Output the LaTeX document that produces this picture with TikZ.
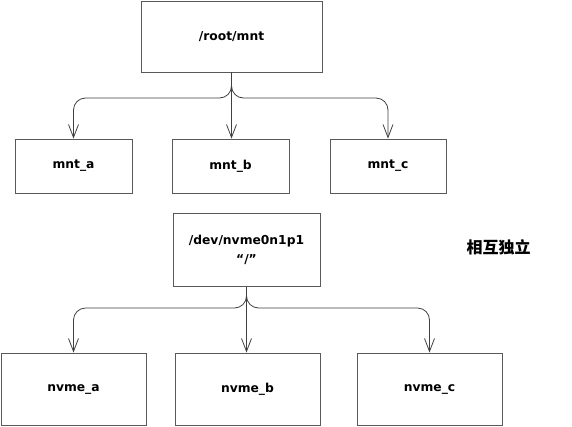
\documentclass[tikz,border=0pt]{standalone}
\usepackage{fontspec}
\setmainfont{DejaVu Sans}
\newfontfamily\cjk{Noto Sans CJK SC}
\usetikzlibrary{arrows.meta}
\begin{document}
\begin{tikzpicture}[x=1pt,y=-1pt,
  box/.style={draw=black!65,line width=0.9pt,fill=white,inner sep=0pt,font=\bfseries\fontsize{12.3}{18.5}\selectfont,align=center},
  arr/.style={draw=black!75,line width=0.8pt,-{Straight Barb[length=13pt,width=10pt,line width=0.8pt]}},
  br/.style={arr,rounded corners=12pt}]
\useasboundingbox (0,0) rectangle (572,426);
\fill[white] (0,0) rectangle (572,426);
% top group
\node[box,minimum width=181pt,minimum height=71pt] (root) at (231.5,36.5) {/root/mnt};
\node[box,minimum width=117pt,minimum height=54pt] (ma) at (73.5,166) {mnt\_a};
\node[box,minimum width=117pt,minimum height=54pt] (mb) at (230.5,166) {mnt\_b};
\node[box,minimum width=116pt,minimum height=54pt] (mc) at (388,166) {mnt\_c};
\coordinate (rj) at (231.5,98);
\draw[br] (root.south) -- (rj) -| (ma.north);
\draw[br] (root.south) -- (rj) -| (mc.north);
\draw[arr] (root.south) -- (root.south |- mb.north);
% bottom group
\node[box,minimum width=147pt,minimum height=73pt] (dev) at (246.5,250) {/dev/nvme0n1p1\\“/”};
\node[box,minimum width=145pt,minimum height=72pt] (na) at (73.5,389) {nvme\_a};
\node[box,minimum width=145pt,minimum height=72pt] (nb) at (247.5,389) {nvme\_b};
\node[box,minimum width=145pt,minimum height=72pt] (nc) at (429.5,389) {nvme\_c};
\coordinate (dj) at (246.5,308);
\draw[br] (dev.south) -- (dj) -| (na.north);
\draw[br] (dev.south) -- (dj) -| (nc.north);
\draw[arr] (dev.south) -- (dev.south |- nb.north);
\node[font=\cjk\bfseries\fontsize{16}{18}\selectfont,inner sep=0pt] (indep) at (498.5,247) {相互独立};
\end{tikzpicture}
\end{document}
